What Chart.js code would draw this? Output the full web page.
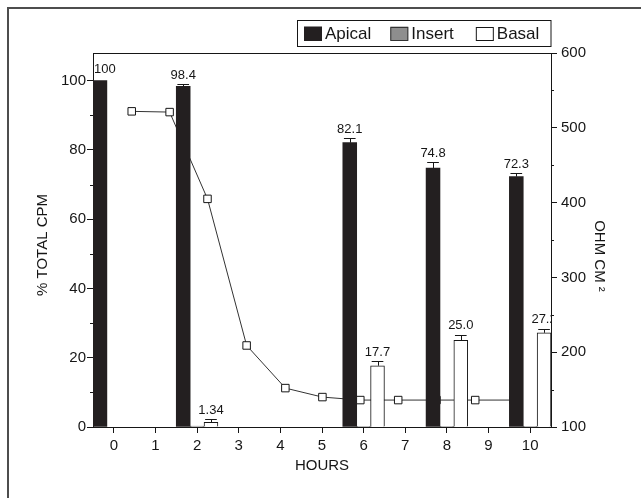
<!DOCTYPE html>
<html>
<head>
<meta charset="utf-8">
<script src="https://cdn.jsdelivr.net/npm/chart.js@4.4.1/dist/chart.umd.min.js"></script>
<style>
  html, body { margin: 0; padding: 0; background: #ffffff; }
  #wrap { width: 641px; height: 498px; position: relative; }
  canvas { display: block; }
</style>
</head>
<body>
<div id="wrap"><canvas id="c" width="641" height="498"></canvas></div>
<script>
// ---- data ----
const hours = [0, 2, 6, 8, 10];
const apical = [100, 98.4, 82.1, 74.8, 72.3];
const insert = [0, 0.3, 0.2, 0.2, 0.2];
const basal = [0, 1.34, 17.7, 25.0, 27.2];
const apicalErr = [0, 0.6, 1.3, 1.6, 1.0];
const basalErr = [0, 0.9, 1.3, 1.6, 1.1];
const apicalLabels = ['100', '98.4', '82.1', '74.8', '72.3'];
const basalLabels = ['', '1.34', '17.7', '25.0', '27.2'];

const ohmHours = [0.43, 1.34, 2.25, 3.19, 4.12, 5.01, 5.92, 6.83, 7.75, 8.68, 9.6];
const ohm = [522, 521, 405, 209, 152, 140, 136, 136, 136, 136, 136];

const xTicks = [0, 1, 2, 3, 4, 5, 6, 7, 8, 9, 10];
const leftTicks = [0, 20, 40, 60, 80, 100];
const leftMinor = [10, 30, 50, 70, 90];
const rightTicks = [100, 200, 300, 400, 500, 600];
const rightMinor = [150, 250, 350, 450, 550];

const seriesNames = ['Apical', 'Insert', 'Basal'];
const xTitle = 'HOURS';
const yTitle = '% TOTAL CPM';
const y2Title = 'OHM CM \u00B2';

// ---- styles ----
const FONT = "'Liberation Sans', Arial, Helvetica, sans-serif";
const INK = '#161616';
const colors = {
  apical: { fill: '#231f20', border: '#231f20', width: 0 },
  insert: { fill: '#8e8e8e', border: '#333333', width: 1 },
  basal:  { fill: '#ffffff', border: '#161616', width: 1 }
};

const pts = (xs, ys) => xs.map((x, i) => ({ x: x, y: ys[i] }));

function line(ctx, x1, y1, x2, y2) {
  ctx.beginPath(); ctx.moveTo(x1, y1); ctx.lineTo(x2, y2); ctx.stroke();
}

const overlay = {
  id: 'overlay',
  afterDraw(chart) {
    const ctx = chart.ctx;
    const a = chart.chartArea;
    const ys = chart.scales.y, y2s = chart.scales.y2;
    ctx.save();

    // outer figure frame (left and top edges)
    ctx.strokeStyle = '#4d4d4d';
    ctx.lineWidth = 2;
    ctx.beginPath();
    ctx.moveTo(8, chart.height); ctx.lineTo(8, 8); ctx.lineTo(chart.width, 8);
    ctx.stroke();

    // top border of plot
    ctx.strokeStyle = INK;
    ctx.lineWidth = 1;
    line(ctx, a.left, Math.round(a.top) + 0.5, a.right, Math.round(a.top) + 0.5);

    // minor ticks
    leftMinor.forEach(v => {
      const p = Math.round(ys.getPixelForValue(v)) + 0.5;
      line(ctx, a.left - 3, p, a.left, p);
    });
    rightMinor.forEach(v => {
      const p = Math.round(y2s.getPixelForValue(v)) + 0.5;
      line(ctx, a.right, p, a.right + 3, p);
    });

    // error bars + value labels
    const groups = [[0, apical, apicalErr, apicalLabels], [2, basal, basalErr, basalLabels]];
    ctx.font = '13px ' + FONT;
    groups.forEach(([di, vals, errs, labels]) => {
      const meta = chart.getDatasetMeta(di);
      meta.data.forEach((bar, i) => {
        const w = bar.width;
        let capPx = bar.y;
        if (errs[i] > 0) {
          capPx = ys.getPixelForValue(vals[i] + errs[i]);
          ctx.strokeStyle = INK;
          ctx.lineWidth = 1;
          const cx = Math.round(bar.x) + 0.5;
          const cy = Math.round(capPx) + 0.5;
          line(ctx, cx, bar.y, cx, cy);
          line(ctx, bar.x - w * 0.42, cy, bar.x + w * 0.42, cy);
        }
        if (labels[i]) {
          ctx.save();
          ctx.beginPath();
          ctx.rect(a.left, a.top, a.right - a.left, a.bottom - a.top);
          ctx.clip();
          const tw = ctx.measureText(labels[i]).width;
          const tx = Math.max(bar.x, a.left + 1 + tw / 2);
          ctx.fillStyle = INK;
          ctx.textAlign = 'center';
          ctx.textBaseline = 'alphabetic';
          ctx.fillText(labels[i], tx, capPx - (errs[i] > 0 ? 5.5 : 8));
          ctx.restore();
        }
      });
    });

    // legend
    const legFont = '17px ' + FONT;
    ctx.font = legFont;
    const keys = ['apical', 'insert', 'basal'];
    const boxL = 297, boxT = 20, boxB = 46;
    let lx = boxL + 7;
    const sqW = 18, sqH = 14;
    const cy = (boxT + boxB) / 2 + 0.5;
    keys.forEach((k, i) => {
      const c = colors[k];
      ctx.fillStyle = c.fill;
      ctx.fillRect(lx, cy - sqH / 2, sqW, sqH);
      ctx.strokeStyle = k === 'apical' ? c.fill : c.border;
      ctx.lineWidth = 1;
      ctx.strokeRect(lx + 0.5, Math.round(cy - sqH / 2) + 0.5, sqW - 1, sqH - 1);
      lx += sqW + 3;
      ctx.fillStyle = INK;
      ctx.textAlign = 'left';
      ctx.textBaseline = 'middle';
      ctx.fillText(seriesNames[i], lx, cy + 1);
      lx += ctx.measureText(seriesNames[i]).width + (i === 1 ? 22 : 19);
    });
    const boxR = a.right;
    ctx.strokeStyle = INK;
    ctx.lineWidth = 1;
    ctx.strokeRect(boxL + 0.5, boxT + 0.5, boxR - boxL - 0.5, boxB - boxT);

    // axis titles
    ctx.font = '15px ' + FONT;
    ctx.fillStyle = INK;
    ctx.textAlign = 'center';
    ctx.textBaseline = 'middle';
    ctx.fillText(xTitle, (a.left + a.right) / 2, 466);

    ctx.save();
    ctx.translate(43, 245);
    ctx.rotate(-Math.PI / 2);
    ctx.fillText(yTitle, 0, 0);
    ctx.restore();

    ctx.save();
    ctx.translate(599, 256);
    ctx.rotate(Math.PI / 2);
    ctx.fillText(y2Title, 0, 0);
    ctx.restore();

    ctx.restore();
  }
};

const tickFont = { family: FONT, size: 15 };

new Chart(document.getElementById('c'), {
  type: 'bar',
  data: {
    datasets: [
      { label: seriesNames[0], data: pts(hours, apical), backgroundColor: colors.apical.fill,
        borderColor: colors.apical.border, borderWidth: 0, yAxisID: 'y' },
      { label: seriesNames[1], data: pts(hours, insert), backgroundColor: colors.insert.fill,
        borderColor: colors.insert.border, borderWidth: 1, borderSkipped: false, yAxisID: 'y' },
      { label: seriesNames[2], data: pts(hours, basal), backgroundColor: colors.basal.fill,
        borderColor: colors.basal.border, borderWidth: 1, borderSkipped: 'start', yAxisID: 'y' },
      { type: 'line', label: 'ohm', data: pts(ohmHours, ohm), yAxisID: 'y2',
        borderColor: '#333333', borderWidth: 1, tension: 0,
        pointStyle: 'rect', pointRadius: 5.3, pointBackgroundColor: '#ffffff',
        pointBorderColor: '#161616', pointBorderWidth: 1 }
    ]
  },
  options: {
    responsive: false,
    animation: false,
    events: [],
    devicePixelRatio: 1,
    layout: { padding: { top: 53, left: 0, right: 0, bottom: 0 } },
    datasets: { bar: { categoryPercentage: 1.0, barPercentage: 1.0, grouped: true } },
    plugins: { legend: { display: false }, tooltip: { enabled: false } },
    scales: {
      x: {
        type: 'linear', min: -0.5, max: 10.5, offset: false,
        afterBuildTicks: s => { s.ticks = xTicks.map(v => ({ value: v })); },
        afterFit: s => { s.height = 71; },
        ticks: { font: tickFont, color: INK, padding: 4, maxRotation: 0, autoSkip: false,
                 callback: v => String(v) },
        grid: { display: true, drawOnChartArea: false, drawTicks: true, tickLength: 6,
                color: INK, offset: false },
        border: { display: true, color: INK, width: 1 }
      },
      y: {
        type: 'linear', position: 'left', min: 0, max: 108,
        afterBuildTicks: s => { s.ticks = leftTicks.map(v => ({ value: v })); },
        afterFit: s => { s.width = 93; },
        ticks: { font: tickFont, color: INK, padding: 1, callback: v => String(v) },
        grid: { display: true, drawOnChartArea: false, drawTicks: true, tickLength: 6, color: INK },
        border: { display: true, color: INK, width: 1 }
      },
      y2: {
        type: 'linear', position: 'right', min: 100, max: 600,
        afterBuildTicks: s => { s.ticks = rightTicks.map(v => ({ value: v })); },
        afterFit: s => { s.width = 90; },
        ticks: { font: tickFont, color: INK, padding: 4, callback: v => String(v) },
        grid: { display: true, drawOnChartArea: false, drawTicks: true, tickLength: 6, color: INK },
        border: { display: true, color: INK, width: 1 }
      }
    }
  },
  plugins: [overlay]
});
</script>
</body>
</html>
